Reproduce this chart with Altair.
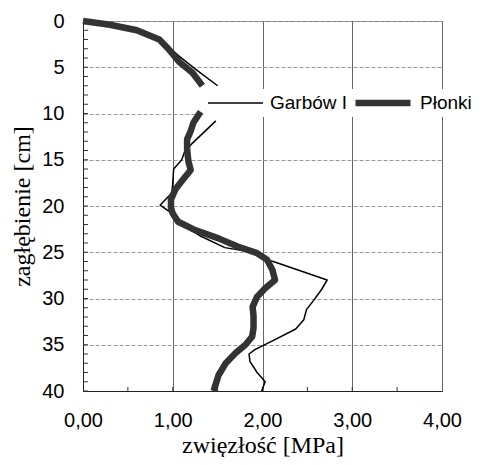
import altair as alt
import pandas as pd

# --- data ---
garbow_depth_a = [0, 0.4, 1, 2, 2.5, 3.8, 5.25, 7.0]
garbow_mpa_a = [0.00, 0.30, 0.60, 0.85, 0.92, 1.07, 1.26, 1.50]
garbow_depth_b = [10.8, 13.2, 14.2, 15.0, 16.0, 17.5, 18.6, 19.9, 20.8, 22.0, 23.3, 24.5,
                  25.1, 25.8, 26.0, 28.0, 29.0, 30.2, 31.2, 32.3, 33.3, 34.4, 35.5, 36.0,
                  36.8, 38.0, 39.0, 40.0]
garbow_mpa_b = [1.48, 1.22, 1.13, 1.10, 1.01, 1.00, 0.99, 0.86, 0.99, 1.10, 1.32, 1.58,
                1.96, 2.05, 2.12, 2.72, 2.66, 2.57, 2.49, 2.46, 2.37, 2.15, 1.92, 1.85,
                1.86, 1.94, 2.03, 1.99]

plonki_depth_a = [0, 0.4, 1, 2, 3, 4.4, 5.6, 7.0]
plonki_mpa_a = [0.00, 0.30, 0.60, 0.85, 0.95, 1.07, 1.22, 1.33]
plonki_depth_b = [9.8, 11.0, 11.9, 12.8, 13.9, 15.2, 16.1, 17.2, 18.2, 19.3, 20.2, 20.8,
                  21.7, 22.6, 23.5, 24.4, 25.1, 25.8, 26.9, 28.0, 28.9, 29.8, 30.9, 31.9,
                  33.2, 34.1, 35.0, 35.9, 37.0, 38.3, 40.0]
plonki_mpa_b = [1.31, 1.23, 1.20, 1.16, 1.16, 1.175, 1.20, 1.11, 1.03, 0.98, 0.98, 1.00,
                1.06, 1.25, 1.51, 1.73, 1.94, 2.05, 2.11, 2.14, 2.03, 1.94, 1.89, 1.90,
                1.90, 1.885, 1.81, 1.70, 1.59, 1.51, 1.455]

series_names = ["Garbów I", "Płonki"]
x_ticks = [0, 1, 2, 3, 4]
y_ticks = [0, 5, 10, 15, 20, 25, 30, 35, 40]
y_minor = list(range(0, 41))
x_minor = [0.5, 1.0, 1.5, 2.0, 2.5, 3.0, 3.5]

rows = []
for name, seg, ds, ms in [
    (series_names[0], "a", garbow_depth_a, garbow_mpa_a),
    (series_names[0], "b", garbow_depth_b, garbow_mpa_b),
    (series_names[1], "a", plonki_depth_a, plonki_mpa_a),
    (series_names[1], "b", plonki_depth_b, plonki_mpa_b),
]:
    for i, (d, m) in enumerate(zip(ds, ms)):
        rows.append({"series": name, "seg": name + seg, "depth": d, "mpa": m, "order": i})
df = pd.DataFrame(rows)

LABEL_FONT = "Liberation Sans"
TITLE_FONT = "Liberation Serif"

xs = alt.Scale(domain=[0, 4], nice=False, zero=False)
ys = alt.Scale(domain=[0, 40], nice=False, zero=False, reverse=True)

x_axis = alt.Axis(
    values=x_ticks, labelExpr="replace(format(datum.value, '.2f'), '.', ',')",
    ticks=False, tickSize=0, labelPadding=35, labelBaseline="alphabetic", labelFlush=False,
    labelFont=LABEL_FONT, labelFontSize=20, labelColor="black",
    domainColor="#222", grid=True, gridColor="#666", gridWidth=1,
    title="zwięzłość [MPa]", titleFont=TITLE_FONT, titleFontSize=24,
    titleFontWeight="normal", titleColor="black",
    titleX=179.5, titleY=61, titleBaseline="alphabetic", titleAlign="center",
)
y_axis = alt.Axis(
    values=y_ticks, ticks=False, tickSize=0, labelPadding=19, labelFlush=False,
    labelFont=LABEL_FONT, labelFontSize=20, labelColor="black",
    domainColor="#222", grid=True, gridColor="#999", gridDash=[4, 2], gridWidth=1,
    title="zagłębienie [cm]", titleFont=TITLE_FONT, titleFontSize=24,
    titleFontWeight="normal", titleColor="black",
    titleX=-54, titleY=185, titleAngle=270, titleBaseline="alphabetic", titleAlign="center",
)

legend = alt.Legend(
    title=None, orient="none", direction="horizontal", legendX=121, legendY=68,
    fillColor="white", padding=3, symbolType="stroke", symbolSize=3025, clipHeight=22,
    labelFont=LABEL_FONT, labelFontSize=19, labelColor="black",
    labelOffset=6, columnPadding=4,
)

lines = alt.Chart(df).mark_line(strokeJoin="round", strokeCap="butt").encode(
    x=alt.X("mpa:Q", scale=xs, axis=x_axis),
    y=alt.Y("depth:Q", scale=ys, axis=y_axis),
    color=alt.Color("series:N", scale=alt.Scale(domain=series_names, range=["black", "#333333"]), legend=legend),
    strokeWidth=alt.StrokeWidth("series:N", scale=alt.Scale(domain=series_names, range=[1.5, 6.5]), legend=legend),
    detail="seg:N",
    order="order:Q",
)

ytick_layer = alt.Chart(pd.DataFrame({"depth": y_minor})).mark_rule(color="#333", strokeWidth=1).encode(
    y=alt.Y("depth:Q", scale=ys, axis=y_axis),
    x=alt.value(0), x2=alt.value(5),
)
xtick_layer = alt.Chart(pd.DataFrame({"mpa": x_minor})).mark_rule(color="#333", strokeWidth=1).encode(
    x=alt.X("mpa:Q", scale=xs, axis=x_axis),
    y=alt.value(366), y2=alt.value(370),
)

chart = alt.layer(ytick_layer, xtick_layer, lines).properties(
    width=359, height=370,
    padding={"left": 75, "top": 13, "right": 34, "bottom": 66},
    autosize=alt.AutoSizeParams(type="none"),
    background="white",
).configure_view(stroke="#777", strokeWidth=1)

chart.save("out.html", embed_options={"renderer": "svg", "actions": False})
